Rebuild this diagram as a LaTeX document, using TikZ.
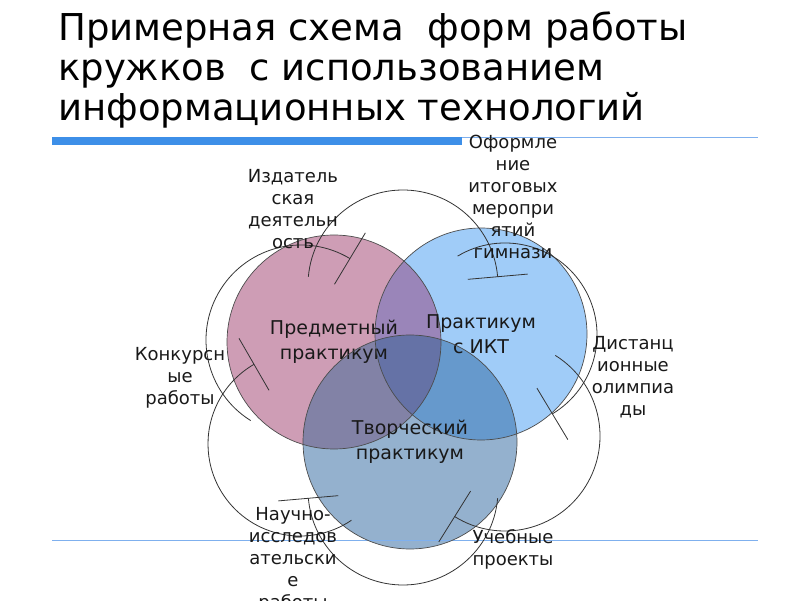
\documentclass[tikz,border=0pt]{standalone}
\usepackage{fontspec}
\setmainfont{DejaVu Sans}

\definecolor{subjpink}{HTML}{CE9DB5}
\definecolor{ictblue}{HTML}{A0CCF8}
\definecolor{artsteel}{HTML}{94B1CE}
\definecolor{subjict}{HTML}{9A85B9}
\definecolor{subjart}{HTML}{8282A6}
\definecolor{ictart}{HTML}{6699CC}
\definecolor{allthree}{HTML}{6572A6}
\definecolor{barblue}{HTML}{3D8FE8}
\definecolor{ruleblue}{HTML}{7FB0EE}

\begin{document}
\begin{tikzpicture}[x=1pt, y=1pt,
    practicum/.style={circle, draw=black!70, line width=0.7pt, minimum size=214pt,
      inner sep=0pt, align=center, font=\fontsize{19}{25}\selectfont, text=black!90},
    form/.style={align=center, inner sep=0pt, font=\fontsize{18}{22}\selectfont, text=black!90},
    ring/.style={draw=black!80, line width=0.8pt}]

  \useasboundingbox (0,0) rectangle (800,600);

  % title and slide rules
  \node[anchor=north west, align=left, inner sep=0pt, font=\fontsize{37}{40}\selectfont]
    (title) at (58,588) {Примерная схема\ \ форм работы\\кружков\ \ с использованием\\информационных технологий};
  \fill[barblue] (52,455) rectangle (462,463);
  \draw[ruleblue, line width=1pt] (462,462.5) -- (758,462.5);

  \coordinate (cs) at (334,258);
  \coordinate (ci) at (481,266);
  \coordinate (ca) at (410,158);

  % three practicums with their overlaps
  \fill[subjpink] (cs) circle[radius=107];
  \fill[ictblue]  (ci) circle[radius=106];
  \fill[artsteel] (ca) circle[radius=107];
  \begin{scope}
    \clip (cs) circle[radius=107];
    \fill[subjict] (ci) circle[radius=106];
    \fill[subjart] (ca) circle[radius=107];
  \end{scope}
  \begin{scope}
    \clip (ci) circle[radius=106];
    \fill[ictart] (ca) circle[radius=107];
  \end{scope}
  \begin{scope}
    \clip (cs) circle[radius=107];
    \clip (ci) circle[radius=106];
    \fill[allthree] (ca) circle[radius=107];
  \end{scope}

  \draw[ruleblue, line width=1pt] (52,60) -- (758,60);

  \node[practicum] (subj) at (cs) {Предметный\\практикум};
  \node[practicum, minimum size=212pt] (ict) at (ci) {Практикум\\с ИКТ};
  \node[practicum] (art) at (ca) {Творческий\\практикум};

  % forms of work round the practicums
  \foreach \cx/\cy/\r/\a/\b in {403/315/95/175/5, 301/260/95/238/59,
      505/265/92/121/-59, 300/156/92/304/120, 505/164/95/58/-122, 403/110/95/355/185}
  {
    \draw[ring] (\cx,\cy) ++(\a:\r) arc[start angle=\a, end angle=\b, radius=\r];
    \draw[ring] (\cx,\cy) ++(\b:\r) ++(\b:-30) -- ++(\b:60);
  }

  \node[form] (publish)  at (293,391) {Издатель\\ская\\деятельн\\ость};
  \node[form] (finals)   at (513,403) {Оформле\\ние\\итоговых\\меропри\\ятий\\гимнази};
  \node[form] (contest)  at (180,222) {Конкурсн\\ые\\работы};
  \node[form] (distance) at (633,223) {Дистанц\\ионные\\олимпиа\\ды};
  \node[form] (research) at (293,40)  {Научно-\\исследов\\ательски\\е\\работы};
  \node[form] (projects) at (513,51)  {Учебные\\проекты};

\end{tikzpicture}
\end{document}
